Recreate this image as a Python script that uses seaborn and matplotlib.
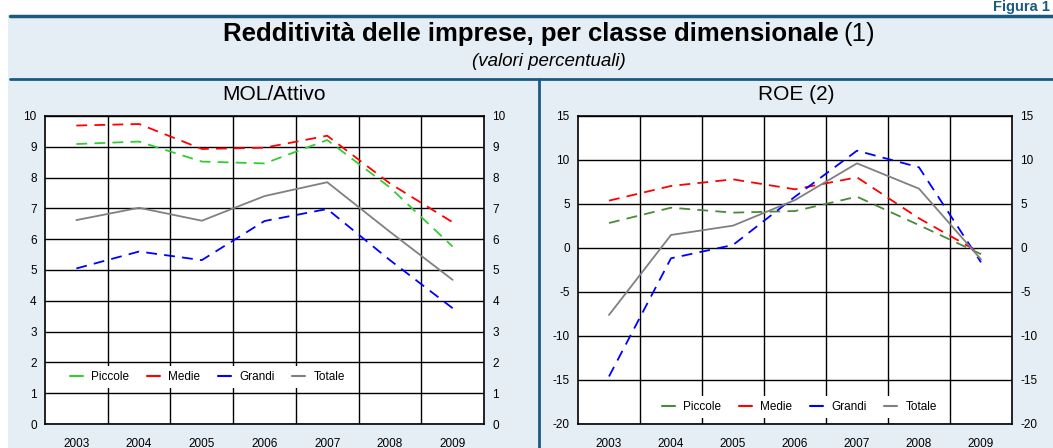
import numpy as np
import pandas as pd
import matplotlib
matplotlib.use("Agg")
import matplotlib.pyplot as plt
import seaborn as sns
from matplotlib.patches import Rectangle
from matplotlib.lines import Line2D

years = [2003, 2004, 2005, 2006, 2007, 2008, 2009]
series = ["Piccole", "Medie", "Grandi", "Totale"]

mol_piccole = [9.09, 9.17, 8.52, 8.46, 9.22, 7.68, 5.76]
mol_medie = [9.69, 9.74, 8.93, 8.97, 9.36, 7.81, 6.55]
mol_grandi = [5.05, 5.60, 5.32, 6.59, 6.98, 5.32, 3.76]
mol_totale = [6.62, 7.02, 6.60, 7.40, 7.85, 6.24, 4.68]

roe_piccole = [2.84, 4.58, 4.02, 4.20, 5.83, 2.60, -0.70]
roe_medie = [5.38, 7.05, 7.80, 6.67, 8.03, 3.37, -0.60]
roe_grandi = [-14.6, -1.17, 0.34, 5.83, 11.06, 9.17, -1.63]
roe_totale = [-7.61, 1.48, 2.54, 5.45, 9.62, 6.74, -1.29]

mol_ticks = list(range(0, 11))
roe_ticks = list(range(-20, 16, 5))


def make_df(values):
    rows = []
    for name, vals in zip(series, values):
        for y, v in zip(years, vals):
            rows.append({"anno": y, "valore": v, "serie": name})
    return pd.DataFrame(rows)


df_mol = make_df([mol_piccole, mol_medie, mol_grandi, mol_totale])
df_roe = make_df([roe_piccole, roe_medie, roe_grandi, roe_totale])

sns.set_style("white")
plt.rcParams["font.family"] = ["Liberation Sans", "DejaVu Sans"]
plt.rcParams["axes.unicode_minus"] = False
plt.rcParams["text.color"] = "black"
plt.rcParams["xtick.color"] = "black"
plt.rcParams["ytick.color"] = "black"

W, H = 1053, 448
bg = "#e6eef5"
dark = "#1b5a80"

fig = plt.figure(figsize=(W / 100, H / 100), dpi=100)
fig.patch.set_facecolor("white")


def fx(px):
    return px / W


def fy(py):
    return 1 - py / H


# background panel and frame lines
fig.add_artist(Rectangle((fx(8), 0), 1 - fx(8), fy(15), transform=fig.transFigure,
                         facecolor=bg, edgecolor="none", zorder=0))
fig.add_artist(Line2D([fx(10), 1], [fy(16), fy(16)], transform=fig.transFigure,
                      color=dark, lw=2.5))
fig.add_artist(Line2D([fx(10), 1], [fy(79), fy(79)], transform=fig.transFigure,
                      color=dark, lw=2))
fig.add_artist(Line2D([fx(539), fx(539)], [fy(79), 0], transform=fig.transFigure,
                      color=dark, lw=2))

fig.text(fx(1050), fy(11), "Figura 1", ha="right", va="baseline", fontsize=10.5,
         fontweight="bold", color=dark)
fig.text(fx(839), fy(34), "Redditività delle imprese, per classe dimensionale",
         ha="right", va="center", fontsize=18.5, fontweight="bold")
fig.text(fx(843), fy(34), "(1)", ha="left", va="center", fontsize=18.5)
fig.text(fx(549), fy(61), "(valori percentuali)", ha="center", va="center",
         fontsize=13.5, style="italic")
fig.text(fx(274), fy(94), "MOL/Attivo", ha="center", va="center", fontsize=15)
fig.text(fx(796), fy(94), "ROE (2)", ha="center", va="center", fontsize=15)

dash_map = {"Piccole": (6, 4), "Medie": (6, 4), "Grandi": (6, 4), "Totale": ""}


def draw(ax, df, ticks, palette, legend_x, legend_y):
    ax.set_facecolor("white")
    sns.lineplot(data=df, x="anno", y="valore", hue="serie", style="serie",
                 hue_order=series, style_order=series, palette=palette,
                 dashes=dash_map, linewidth=1.3, ax=ax, legend=False, zorder=3)
    ax.set_xlim(years[0] - 0.5, years[-1] + 0.5)
    ax.set_ylim(ticks[0], ticks[-1])
    ax.set_yticks(ticks)
    ax.set_xticks(years)
    ax.set_xticks([y + 0.5 for y in years[:-1]], minor=True)
    ax.grid(which="major", axis="y", color="black", lw=1)
    ax.grid(which="minor", axis="x", color="black", lw=1)
    ax.tick_params(axis="both", which="both", length=0, labelsize=8.5)
    ax.tick_params(axis="y", labelright=True, pad=6)
    ax.tick_params(axis="x", pad=10)
    ax.set_xlabel("")
    ax.set_ylabel("")
    for s in ax.spines.values():
        s.set_visible(True)
        s.set_color("black")
        s.set_linewidth(1.2)
    handles = [Line2D([], [], color=palette[n], lw=1.5) for n in series]
    leg = ax.legend(handles, series, ncol=4, loc="center",
                    bbox_to_anchor=(legend_x, legend_y),
                    frameon=True, fontsize=8.5, handlelength=1.1, columnspacing=1.5,
                    handletextpad=0.7, borderpad=0.4)
    leg.get_frame().set_facecolor("white")
    leg.get_frame().set_edgecolor("none")
    leg.get_frame().set_alpha(1)
    leg.set_zorder(5)


ax1 = fig.add_axes([fx(45), 1 - 424 / H, fx(439), 308 / H])
ax2 = fig.add_axes([fx(578), 1 - 424 / H, fx(434), 308 / H])

draw(ax1, df_mol, mol_ticks,
     {"Piccole": "#33cc33", "Medie": "#ff0000", "Grandi": "#0000ff", "Totale": "#808080"},
     0.37, 0.153)
draw(ax2, df_roe, roe_ticks,
     {"Piccole": "#4a8a3a", "Medie": "#ff0000", "Grandi": "#0000ff", "Totale": "#808080"},
     0.51, 0.055)

fig.savefig("out.png", dpi=100, facecolor=fig.get_facecolor())
